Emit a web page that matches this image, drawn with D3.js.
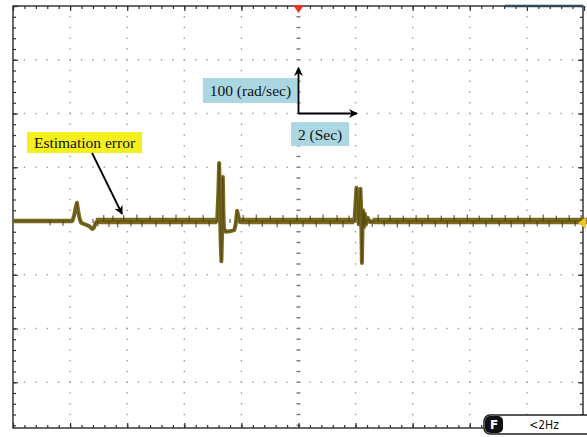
<!DOCTYPE html>
<html>
<head>
<meta charset="utf-8">
<script src="https://cdn.jsdelivr.net/npm/d3@7"></script>
<style>
body { margin: 0; background: #fff; }
svg { display: block; }
</style>
</head>
<body>
<script>
// speed estimation error trace, time in s, error in rad/sec
var traceTime = [0, 2.08, 2.14, 2.2, 2.24, 2.28, 2.33, 2.38, 2.5, 2.65, 2.78, 2.84, 2.9, 2.98,
  7.15, 7.19, 7.22, 7.24, 7.26, 7.28, 7.30, 7.32, 7.33, 7.35, 7.37, 7.39, 7.45, 7.6, 7.75, 7.8, 7.85, 7.9, 7.95, 8.0,
  11.96, 12.0, 12.03, 12.06, 12.09, 12.11, 12.14, 12.17, 12.19, 12.21, 12.22, 12.24, 12.26, 12.29, 12.32, 12.36, 12.42, 12.5, 12.6, 20];
var traceValue = [0, 0, 10, 26, 34, 20, 5, -3, -6, -9, -15, -12, -3, 0,
  0, 50, 108, 70, -10, -50, -75, -30, 40, 82, 20, -14, -20, -19, -17, -6, 19, 8, -2, 0,
  0, 35, 62, 40, 5, -6, 35, 60, 30, -40, -78, -25, 20, -12, 14, -7, 6, -2, 0, 0];

// noise band around zero (rad/sec half width)
var bandStart = [0, 2.9, 7.98, 12.6];
var bandEnd = [2.08, 7.15, 11.95, 20.1];
var bandHalf = [4.2, 6.2, 6.2, 6.2];

// small noise spikes
var spikeTime = [1.30, 1.75,
  2.97, 3.18, 3.36, 3.50, 3.67, 3.88, 4.13, 4.34, 4.52, 4.80, 5.01, 5.25, 5.50, 5.71, 5.92, 6.17, 6.41, 6.66, 6.87,
  8.06, 8.27, 8.52, 8.73, 9.01, 9.25, 9.46, 9.71, 9.95, 10.16, 10.41, 10.62, 10.86, 11.11, 11.35, 11.56, 11.77,
  12.58, 12.79, 13.00, 13.21, 13.46, 13.67, 13.88, 14.12, 14.33, 14.54, 14.79, 15.00, 15.21, 15.45, 15.66, 15.91,
  16.12, 16.33, 16.57, 16.78, 17.03, 17.24, 17.45, 17.69, 17.90, 18.11, 18.36, 18.57, 18.78, 19.03, 19.24, 19.48, 19.69, 19.90];
var spikeValue = [-8, -9,
  -10, 11, -11, 10, -12, 11, -10, 12, -11, 10, -11, 11, -10, 12, -11, 10, -12, 11, -10,
  11, -10, 12, -11, 10, -12, 11, -10, 12, -11, 10, -11, 12, -10, 11, -12, 10,
  -11, 12, -10, 11, -12, 10, -11, 11, -10, 12, -11, 10, -12, 11, -10, 12,
  -11, 10, -11, 12, -10, 11, -12, 10, -11, 11, -10, 12, -11, 10, -12, 11, -10, 11];

var timePerDiv = 2;     // s
var valuePerDiv = 100;  // rad/sec

var width = 587, height = 437;
var frameBottom = 428;

var xScale = d3.scaleLinear().domain([0, 20]).range([13, 584]);
var yScale = d3.scaleLinear().domain([-400, 400]).range([436, 6]);

var svg = d3.select("body").append("svg")
  .attr("width", width)
  .attr("height", height);

var majorX = d3.range(0, 20.01, timePerDiv);
var minorX = d3.range(0, 20.01, timePerDiv / 5);
var majorY = d3.range(-400, 400.1, valuePerDiv);
var minorY = d3.range(-400, 400.1, valuePerDiv / 5).filter(function(v) { return yScale(v) <= frameBottom; });

// graticule dots
var grid = svg.append("g").attr("class", "grid");
majorX.slice(1, -1).forEach(function(t) {
  var centre = t === 10;
  grid.selectAll(null)
    .data(minorY.filter(function(v) { return v > -400 && v < 400; }))
    .enter().append("rect")
    .attr("x", xScale(t) - (centre ? 2 : 0.7))
    .attr("y", function(v) { return yScale(v) - 0.7; })
    .attr("width", centre ? 4 : 1.4)
    .attr("height", 1.4)
    .attr("fill", centre ? "#777" : "#9a9a9a");
});
majorY.slice(1, -1).forEach(function(v) {
  var centre = v === 0;
  grid.selectAll(null)
    .data(minorX.slice(1, -1))
    .enter().append("rect")
    .attr("x", function(t) { return xScale(t) - 0.7; })
    .attr("y", yScale(v) - (centre ? 2 : 0.7))
    .attr("width", 1.4)
    .attr("height", centre ? 4 : 1.4)
    .attr("fill", centre ? "#777" : "#9a9a9a");
});

// frame ticks with d3 axes
function frameAxis(axis, transform, values, size) {
  var g = svg.append("g")
    .attr("transform", transform)
    .call(axis.tickValues(values).tickSize(size).tickFormat(""));
  g.select(".domain").remove();
  g.selectAll("line").attr("stroke", "#333").attr("stroke-width", 1.2);
}
var majorYIn = majorY.filter(function(v) { return yScale(v) <= frameBottom; });
frameAxis(d3.axisTop(xScale), "translate(0," + yScale(400) + ")", minorX, -3);
frameAxis(d3.axisTop(xScale), "translate(0," + yScale(400) + ")", majorX, -5);
frameAxis(d3.axisBottom(xScale), "translate(0," + frameBottom + ")", minorX, -3);
frameAxis(d3.axisBottom(xScale), "translate(0," + frameBottom + ")", majorX, -5);
frameAxis(d3.axisLeft(yScale), "translate(" + xScale(0) + ",0)", minorY, -3);
frameAxis(d3.axisLeft(yScale), "translate(" + xScale(0) + ",0)", majorYIn, -5);
frameAxis(d3.axisRight(yScale), "translate(" + (xScale(20) - 1) + ",0)", minorY, -3);
frameAxis(d3.axisRight(yScale), "translate(" + (xScale(20) - 1) + ",0)", majorYIn, -5);

svg.append("rect")
  .attr("x", xScale(0))
  .attr("y", yScale(400))
  .attr("width", xScale(20) - 1 - xScale(0))
  .attr("height", frameBottom - yScale(400))
  .attr("fill", "none")
  .attr("stroke", "#2a2a2a")
  .attr("stroke-width", 1.4);

// status strip top right
svg.append("line")
  .attr("x1", xScale(17.23)).attr("x2", xScale(20) - 1)
  .attr("y1", yScale(400)).attr("y2", yScale(400))
  .attr("stroke", "#2d4b56")
  .attr("stroke-width", 2.5);

// trace
var traceData = traceTime.map(function(t, i) { return {t: t, v: traceValue[i]}; });
var bandData = bandStart.map(function(s, i) { return {s: s, e: bandEnd[i], h: bandHalf[i]}; });

var band = d3.area()
  .x(function(d) { return xScale(d[0]); })
  .y0(function(d) { return yScale(-d[1]); })
  .y1(function(d) { return yScale(d[1]); });

svg.append("g").selectAll("path")
  .data(bandData)
  .enter().append("path")
  .attr("d", function(d) { return band([[d.s, d.h], [d.e, d.h]]); })
  .attr("fill", "#7a6a20");

var line = d3.line()
  .x(function(d) { return xScale(d.t); })
  .y(function(d) { return yScale(d.v); });

svg.append("path")
  .datum(traceData)
  .attr("d", line)
  .attr("fill", "none")
  .attr("stroke", "#7a6a20")
  .attr("stroke-width", 4)
  .attr("stroke-linejoin", "round");

svg.append("path")
  .datum(traceData)
  .attr("d", line)
  .attr("fill", "none")
  .attr("stroke", "#3f350b")
  .attr("stroke-width", 1)
  .attr("stroke-opacity", 0.55)
  .attr("stroke-linejoin", "round");

svg.append("g").selectAll("line")
  .data(spikeTime)
  .enter().append("line")
  .attr("x1", function(t) { return xScale(t); })
  .attr("x2", function(t) { return xScale(t); })
  .attr("y1", yScale(0))
  .attr("y2", function(t, i) { return yScale(spikeValue[i]); })
  .attr("stroke", "#4a3f0e")
  .attr("stroke-width", 1);

// markers: trigger (top) and channel level (right)
var tx = xScale(10), ty = yScale(400);
svg.append("path")
  .attr("d", "M" + (tx - 5.5) + "," + (ty - 1) + "L" + (tx + 5.5) + "," + (ty - 1) + "L" + tx + "," + (ty + 7) + "Z")
  .attr("fill", "#e5352a");

var gx = xScale(20), gy = yScale(-3.5);
svg.append("path")
  .attr("d", "M" + (gx - 6) + "," + gy + "L" + (gx + 2) + "," + (gy - 6) + "L" + (gx + 2) + "," + (gy + 6) + "Z")
  .attr("fill", "#f3c21c");

// annotations
var defs = svg.append("defs");
defs.append("marker")
  .attr("id", "head")
  .attr("viewBox", "0 -5 10 10")
  .attr("refX", 9)
  .attr("refY", 0)
  .attr("markerWidth", 5)
  .attr("markerHeight", 5)
  .attr("markerUnits", "strokeWidth")
  .attr("orient", "auto")
  .append("path")
  .attr("d", "M0,-5L10,0L0,5L3,0Z")
  .attr("fill", "#000");

function labelBox(t0, t1, v0, v1, fill, text) {
  svg.append("rect")
    .attr("x", xScale(t0))
    .attr("y", yScale(v0))
    .attr("width", xScale(t1) - xScale(t0))
    .attr("height", yScale(v1) - yScale(v0))
    .attr("fill", fill);
  svg.append("text")
    .attr("x", (xScale(t0) + xScale(t1)) / 2)
    .attr("y", (yScale(v0) + yScale(v1)) / 2 + 5.5)
    .attr("text-anchor", "middle")
    .attr("font-family", "'Liberation Serif', 'Times New Roman', serif")
    .attr("font-size", 15.5)
    .attr("fill", "#111")
    .text(text);
}

labelBox(0.49, 4.52, 165.6, 126.5, "#f4f01e", "Estimation error");
labelBox(6.65, 9.98, 266, 219.5, "#abd7e3", "100 (rad/sec)");
labelBox(9.74, 11.77, 184, 139.5, "#abd7e3", "2 (Sec)");

function arrow(t0, v0, t1, v1) {
  svg.append("line")
    .attr("x1", xScale(t0)).attr("y1", yScale(v0))
    .attr("x2", xScale(t1)).attr("y2", yScale(v1))
    .attr("stroke", "#000")
    .attr("stroke-width", 1.8)
    .attr("marker-end", "url(#head)");
}
arrow(2.77, 126.5, 3.82, 13);
arrow(10, 200, 10, 285);
arrow(10, 200, 12.05, 200);

// bottom status box
var bx = 484, by = 415;
svg.append("rect")
  .attr("x", bx).attr("y", by)
  .attr("width", 110).attr("height", 19)
  .attr("rx", 6)
  .attr("fill", "#fff")
  .attr("stroke", "#222")
  .attr("stroke-width", 1.5);
svg.append("rect")
  .attr("x", bx + 1).attr("y", by + 1)
  .attr("width", 18).attr("height", 17)
  .attr("rx", 5)
  .attr("fill", "#111");
svg.append("text")
  .attr("x", bx + 10).attr("y", by + 14)
  .attr("text-anchor", "middle")
  .attr("font-family", "'DejaVu Sans', sans-serif")
  .attr("font-weight", "bold")
  .attr("font-size", 12)
  .attr("fill", "#fff")
  .text("F");
svg.append("text")
  .attr("x", bx + 60).attr("y", by + 14)
  .attr("text-anchor", "middle")
  .attr("font-family", "'DejaVu Sans Condensed', 'DejaVu Sans', sans-serif")
  .attr("font-size", 12)
  .attr("fill", "#111")
  .text("<2Hz");
</script>
</body>
</html>
